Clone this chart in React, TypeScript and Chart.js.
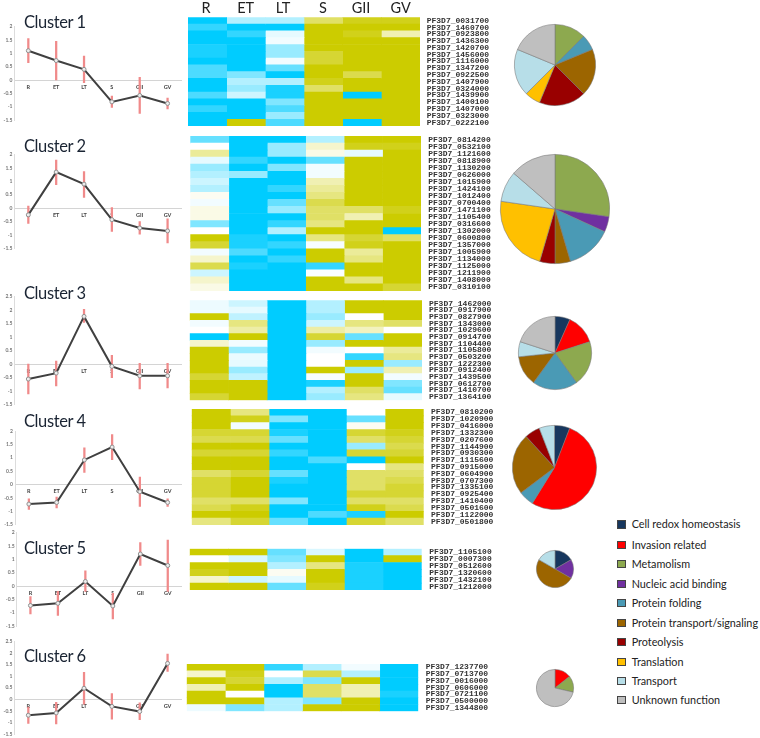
import React, { useEffect, useRef } from "react";
import { Chart, registerables } from "chart.js";

Chart.register(...registerables);

const stages = ["R", "ET", "LT", "S", "GII", "GV"];
const headerCenters = [206, 245.7, 283, 323, 361, 400.7];

const means1 = [1.1, 0.73, 0.4, -0.82, -0.58, -0.88];
const lows1 = [0.65, 0, -0.1, -1.03, -1.25, -1.08];
const highs1 = [1.55, 1.45, 0.9, -0.6, 0.1, -0.68];
const means2 = [-0.25, 1.35, 0.9, -0.43, -0.74, -0.85];
const lows2 = [-0.57, 0.88, 0.4, -0.87, -0.97, -1.3];
const highs2 = [0.08, 1.8, 1.37, 0.02, -0.5, -0.4];
const means3 = [-0.55, -0.33, 1.77, -0.08, -0.43, -0.43];
const lows3 = [-1.1, -0.8, 1.55, -0.5, -0.92, -0.88];
const highs3 = [0, 0.12, 2.03, 0.33, 0.03, 0.03];
const means4 = [-0.73, -0.67, 0.92, 1.4, -0.27, -0.67];
const lows4 = [-0.93, -0.87, 0.45, 0.93, -0.82, -0.82];
const highs4 = [-0.53, -0.47, 1.37, 1.87, 0.28, -0.53];
const means5 = [-0.73, -0.65, 0.17, -0.75, 1.2, 0.77];
const lows5 = [-1.05, -1.1, -0.2, -1.23, 0.77, -0.2];
const highs5 = [-0.4, -0.2, 0.57, -0.27, 1.63, 1.72];
const means6 = [-0.68, -0.58, 0.48, -0.3, -0.52, 1.55];
const lows6 = [-1.03, -1.05, -0.2, -0.85, -0.87, 1.2];
const highs6 = [-0.33, -0.12, 1.17, 0.25, -0.15, 1.95];

const genes1 = ["0031700","1460700","0923800","1436300","1420700","1456000","1116000","1347200","0922500","1407900","0324000","1439900","1400100","1407000","0323000","0222100"];
const genes2 = ["0814200","0532100","1121600","0818900","1130200","0626000","1015900","1424100","1012400","0700400","1471100","1105400","0316600","1302000","0600800","1357000","1005900","1134000","1125000","1211900","1408000","0310100"];
const genes3 = ["1462000","0917900","0827900","1343000","1029600","0914700","1104400","1105800","0503200","1222300","0912400","1439500","0612700","1410700","1364100"];
const genes4 = ["0810200","1020900","0416000","1332300","0207600","1144900","0930300","1115600","0915000","0604900","0707300","1335100","0925400","1410400","0501600","1122000","0501800"];
const genes5 = ["1105100","0007300","0512600","1320600","1432100","1212000"];
const genes6 = ["1237700","0713700","0016000","0606000","0721100","0500000","1344800"];

// Relative expression per gene (rows) and stage (columns): -10 blue, 0 white, +10 olive
const heat1 = [
  [-10,-3,-3,6,9,9],[-8,-10,-10,10,10,10],[-10,-8,-1,10,9,3],[-10,-10,-0.5,10,10,10],
  [-9,-10,-4,10,10,10],[-9,-10,-4,8,10,10],[-10,-10,-0.5,8,10,10],[-7,-10,-6,10,10,10],
  [-7,-5,-10,10,7,10],[-10,-3,-3,9,10,10],[-10,-4,-9,6,10,10],[-7,-2,-9,10,-10,10],
  [-10,-10,-5,10,10,10],[-8,-10,-7,10,10,10],[-10,-10,-4,10,10,10],[-10,10,-7,10,-10,10],
];
const heat2 = [
  [-6,-10,-10,-3,10,10],[0,-10,-4,2,9,9],[4,-10,-4,1,-1,10],[-1,-8,-10,-6,10,10],
  [-4,-10,-5,-0.5,10,10],[-3,-4,-10,-0.5,10,10],[-2,-10,-10,3,10,10],[-3,-10,-8,4,10,10],
  [0.5,-10,-10,5,10,10],[-0.5,-10,-6,7,10,10],[1,-10,-4,6,6,9],[1,-10,-10,6,3,10],
  [-5,-10,-8,5,10,10],[0,-10,-3,10,10,-10],[10,-9,-10,5,8,6],[8,-9,-8,-0.3,9,10],
  [-0.5,-7,-10,10,4,10],[2,-10,-8,10,5,10],[7,-9,-10,-8,10,10],[-2,-10,-10,-0.2,10,10],
  [2,-10,-10,10,5,10],[1,-10,-10,10,10,8],
];
const heat3 = [
  [-0.7,-2,-10,-3,10,10],[-0.7,-1,-10,-3,10,10],[10,-2.5,-10,-4,0,10],[-0.5,5,-10,-2,5,6],
  [0,3.5,-10,3.5,2.5,0],[-10,10,-10,8,-6,10],[2,-0.5,-10,-4,10,10],[10,-4,-10,-0.5,0,4],
  [10,-0.8,-10,0,-8,5],[10,-1,-10,0,10,-4],[10,-4,-10,10,-4,3],[8,-2.5,-10,-0.3,10,-0.5],
  [10,10,-10,-9,10,-5],[10,10,-10,-3,6,-6],[8,10,-10,-4,5,-1],
];
const heat4 = [
  [10,5,-10,-10,0,10],[10,9,-5,-10,-6,10],[10,-0.5,-10,-10,0.5,10],[8,8,-9,-10,8,9],
  [7,7,-6,-10,6,8],[10,10,-10,-10,-4,7],[8,8,-8,-10,8,8],[10,10,-10,-7,-10,10],
  [10,10,-10,-10,0,5],[6,8,-6,-10,6,6],[8,10,-9,-10,6,7],[8,10,-10,-10,6,8],
  [8,10,-10,-10,8,8],[6,6,-5,-10,6,6],[7,9,-10,-10,9,7],[10,10,-10,-7,-9,10],
  [5,8,-6,-10,8,6],
];
const heat5 = [
  [10,10,-6,-1.5,-10,-3],[0,-1.5,-5,10,-10,10],[10,10,-3,5,-9,-10],
  [9,10,0.5,10,-9,-10],[2,-2,-1,10,-9,-10],[10,10,-6,9,-9,-10],
];
const heat6 = [
  [10,10,-8,-3,-0.5,-10],[2,9,0,7,-3,-10],[10,8,-3,-5,10,-10],[3,10,-10,6,3,-10],
  [10,0,-10,6,3,-9],[10,10,-3,-5,10,-10],[-0.7,-5,-3,10,10,-10],
];

const categories = ["Cell redox homeostasis","Invasion related","Metamolism","Nucleic acid binding","Protein folding","Protein transport/signaling","Proteolysis","Translation","Transport","Unknown function"];
const categoryColors = ["#17375E","#FF0000","#8DA94F","#7030A0","#4A9AB5","#9C6500","#990000","#FFC000","#B7DEE8","#BFBFBF"];
const counts1 = [0,0,2,0,1,3,3,1,3,3];
const counts2 = [0,0,6,1,3,1,1,5,2,3];
const counts3 = [1,2,3,0,3,2,0,0,1,3];
const counts4 = [1,9,0,0,1,4,1,0,1,0];
const counts5 = [1,0,0,1,0,3,0,0,1,0];
const counts6 = [0,1,1,0,0,0,0,0,0,5];

const FONT = "Lato, 'Open Sans', sans-serif";

function heatColor(v: number) {
  const t = Math.min(1, Math.abs(v) / 10);
  const c = v < 0 ? [0, 204, 255] : [204, 204, 0];
  const m = c.map((k) => Math.round(255 + (k - 255) * t));
  return `rgb(${m[0]},${m[1]},${m[2]})`;
}

function ChartBox({ left, top, width, height, config }: any) {
  const ref = useRef<HTMLCanvasElement>(null);
  useEffect(() => {
    const chart = new Chart(ref.current as HTMLCanvasElement, config);
    return () => chart.destroy();
  }, []);
  return (
    <canvas
      ref={ref}
      width={width}
      height={height}
      style={{ position: "absolute", left, top, width, height }}
    />
  );
}

function LinePanel({ means, lows, highs, yMax, yMin, top, bottom, axisX }: any) {
  const cTop = Math.floor(top) - 6;
  const cHeight = Math.ceil(bottom) + 6 - cTop;
  const config = {
    type: "bar",
    data: {
      labels: stages,
      datasets: [
        {
          type: "line",
          data: means,
          order: 0,
          borderColor: "#404040",
          borderWidth: 2,
          pointRadius: 2,
          pointBackgroundColor: "#eeeeee",
          pointBorderColor: "#909090",
          pointBorderWidth: 1,
          tension: 0,
        },
        {
          type: "bar",
          data: lows.map((l: number, i: number) => [l, highs[i]]),
          order: 1,
          backgroundColor: "#F08A8A",
          barThickness: 1.6,
        },
      ],
    },
    options: {
      animation: false,
      responsive: false,
      layout: {
        padding: { left: 0, right: 190 - 181.5, top: top - cTop, bottom: cTop + cHeight - bottom },
      },
      plugins: { legend: { display: false }, tooltip: { enabled: false } },
      scales: {
        x: {
          position: { y: 0 },
          grid: { display: false, drawTicks: false },
          border: { color: "#d4d4d4" },
          ticks: { font: { family: FONT, size: 5.5, weight: "bold" }, color: "#444", padding: 3.5, maxRotation: 0, autoSkip: false },
        },
        y: {
          min: yMin,
          max: yMax,
          afterFit: (s: any) => { s.width = axisX; },
          grid: { display: false, drawTicks: false },
          border: { color: "#dcdcdc" },
          ticks: {
            stepSize: 0.5,
            callback: (v: number) => String(v),
            font: { family: FONT, size: 5, weight: "bold" },
            color: "#777",
            padding: 2,
          },
        },
      },
    },
  };
  return <ChartBox left={0} top={cTop} width={190} height={cHeight} config={config} />;
}

function HeatPanel({ genes, rows, left, right, top, bottom, labelX }: any) {
  const cTop = Math.floor(top) - 2;
  const cLeft = Math.floor(left);
  const cHeight = Math.ceil(bottom) + 2 - cTop;
  const cWidth = 498 - cLeft;
  const config = {
    type: "bar",
    data: {
      labels: genes.map((g: string) => "PF3D7_" + g),
      datasets: stages.map((stage, j) => ({
        label: stage,
        data: rows.map(() => 1),
        backgroundColor: rows.map((r: number[]) => heatColor(r[j])),
        borderWidth: 0,
        barPercentage: 1,
        categoryPercentage: 1,
      })),
    },
    options: {
      indexAxis: "y",
      animation: false,
      responsive: false,
      layout: {
        padding: { left: left - cLeft, right: 0, top: top - cTop, bottom: cTop + cHeight - bottom },
      },
      plugins: { legend: { display: false }, tooltip: { enabled: false } },
      scales: {
        x: { display: false, stacked: true, min: 0, max: 6 },
        y: {
          stacked: true,
          position: "right",
          afterFit: (s: any) => {
            s.width = 498 - right;
            s.paddingTop = 0;
            s.paddingBottom = 0;
          },
          grid: { display: false, drawTicks: false },
          border: { display: false },
          ticks: {
            autoSkip: false,
            padding: labelX - right,
            font: { family: "'Liberation Mono', monospace", size: 8, weight: "bold" },
            color: "#333",
          },
        },
      },
    },
  };
  return <ChartBox left={cLeft} top={cTop} width={cWidth} height={cHeight} config={config} />;
}

function PiePanel({ counts, cx, cy, r }: any) {
  const pad = 2;
  const size = Math.ceil(2 * r + 2 * pad);
  const left = Math.round(cx - size / 2);
  const top = Math.round(cy - size / 2);
  const config = {
    type: "pie",
    data: {
      labels: categories,
      datasets: [
        {
          data: counts,
          backgroundColor: categoryColors,
          borderColor: "rgba(120,120,120,0.7)",
          borderWidth: 0.8,
        },
      ],
    },
    options: {
      animation: false,
      responsive: false,
      layout: { padding: pad },
      plugins: { legend: { display: false }, tooltip: { enabled: false } },
    },
  };
  return <ChartBox left={left} top={top} width={size} height={size} config={config} />;
}

const titleStyle = (y: number): React.CSSProperties => ({
  position: "absolute",
  left: 24,
  top: y - 12,
  height: 24,
  lineHeight: "24px",
  fontFamily: FONT,
  fontSize: 16.5,
  letterSpacing: -0.4,
  color: "#1a2433",
  whiteSpace: "nowrap",
});

const titleYs = [22, 146, 292.7, 420.7, 548.3, 656];
const legendYs = [524.3, 544.7, 563.7, 583.7, 602.7, 622.7, 641.7, 661.7, 680.7, 699.7];

export default function App() {
  return (
    <div
      style={{
        position: "absolute",
        left: 0,
        top: 0,
        width: 760,
        height: 738,
        overflow: "hidden",
        background: "#fff",
        filter: "blur(0.35px)",
      }}
    >
      <LinePanel means={means1} lows={lows1} highs={highs1} yMax={2} yMin={-1.5} top={26.7} bottom={120} axisX={14.4} />
      <LinePanel means={means2} lows={lows2} highs={highs2} yMax={2} yMin={-1.5} top={154.7} bottom={248.3} axisX={14.4} />
      <LinePanel means={means3} lows={lows3} highs={highs3} yMax={2.5} yMin={-1.5} top={296.7} bottom={404.7} axisX={14.4} />
      <LinePanel means={means4} lows={lows4} highs={highs4} yMax={2} yMin={-1.5} top={431} bottom={524.7} axisX={15} />
      <LinePanel means={means5} lows={lows5} highs={highs5} yMax={2} yMin={-1.5} top={532.7} bottom={626} axisX={16.7} />
      <LinePanel means={means6} lows={lows6} highs={highs6} yMax={2.5} yMin={-1.5} top={641.3} bottom={734.3} axisX={14.4} />

      <HeatPanel genes={genes1} rows={heat1} left={188} right={420} top={17.3} bottom={126} labelX={426.7} />
      <HeatPanel genes={genes2} rows={heat2} left={190.3} right={421} top={136} bottom={291} labelX={428.3} />
      <HeatPanel genes={genes3} rows={heat3} left={189.7} right={422} top={300.3} bottom={400.3} labelX={429} />
      <HeatPanel genes={genes4} rows={heat4} left={191.7} right={423.7} top={409} bottom={525} labelX={431} />
      <HeatPanel genes={genes5} rows={heat5} left={189.7} right={421.7} top={548.7} bottom={590} labelX={429.3} />
      <HeatPanel genes={genes6} rows={heat6} left={186.7} right={418.3} top={664} bottom={711.3} labelX={425.7} />

      <PiePanel counts={counts1} cx={555} cy={65} r={40.7} />
      <PiePanel counts={counts2} cx={555} cy={209.3} r={55} />
      <PiePanel counts={counts3} cx={554.7} cy={353.3} r={36.7} />
      <PiePanel counts={counts4} cx={554.7} cy={467.3} r={42.3} />
      <PiePanel counts={counts5} cx={554.7} cy={569} r={18.7} />
      <PiePanel counts={counts6} cx={554.7} cy={688.3} r={18.7} />

      {titleYs.map((y, i) => (
        <div key={i} style={titleStyle(y)}>{`Cluster ${i + 1}`}</div>
      ))}
      {stages.map((s, i) => (
        <div
          key={s}
          style={{
            position: "absolute",
            left: headerCenters[i] - 20,
            width: 40,
            top: -1,
            textAlign: "center",
            fontFamily: FONT,
            fontSize: 14.5,
            lineHeight: "18px",
            color: "#222",
          }}
        >
          {s}
        </div>
      ))}
      {categories.map((c, i) => (
        <React.Fragment key={c}>
          <div
            style={{
              position: "absolute",
              left: 617,
              top: legendYs[i] - 4,
              width: 6.5,
              height: 6.5,
              background: categoryColors[i],
              border: "1px solid #444",
            }}
          />
          <div
            style={{
              position: "absolute",
              left: 631.7,
              top: legendYs[i] - 8,
              lineHeight: "16px",
              fontFamily: FONT,
              fontSize: 10.8,
              color: "#222",
              whiteSpace: "nowrap",
            }}
          >
            {c}
          </div>
        </React.Fragment>
      ))}
    </div>
  );
}
